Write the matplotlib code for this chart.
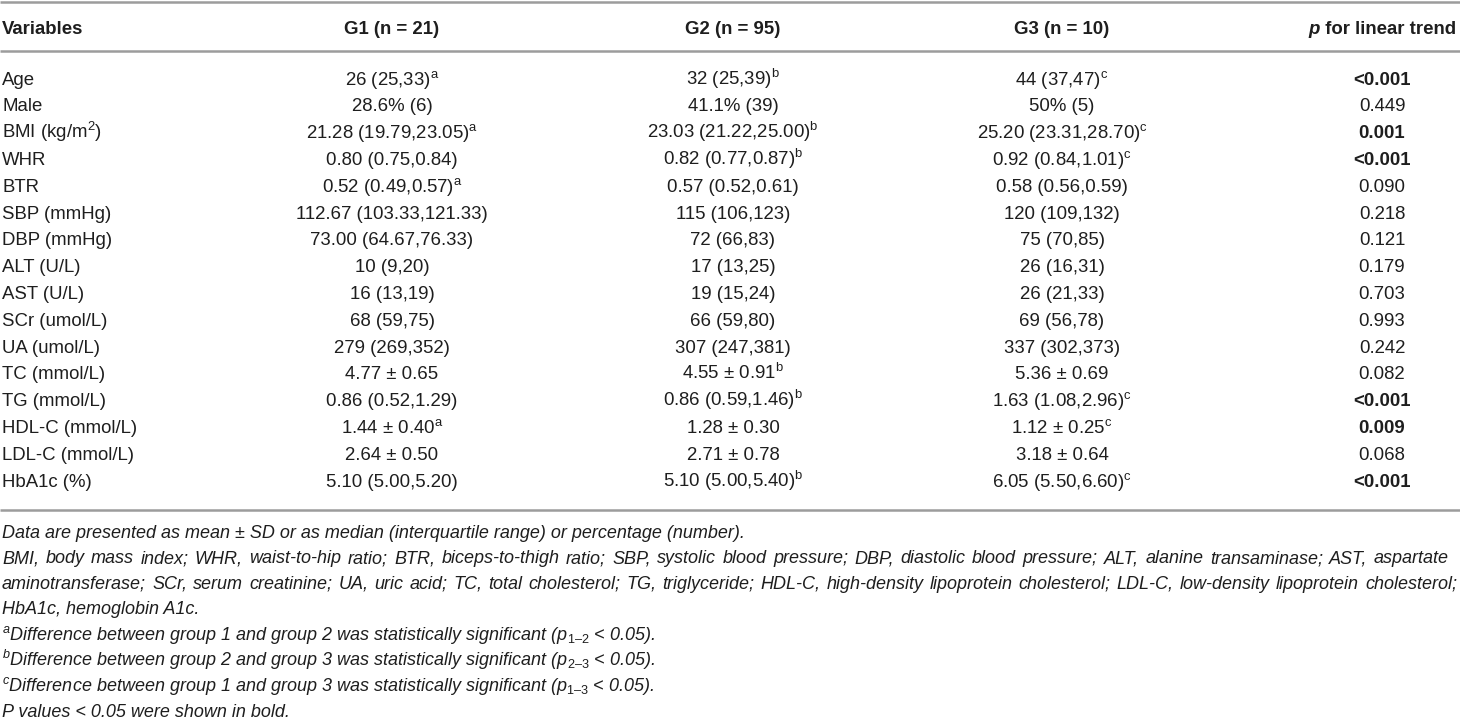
import matplotlib
matplotlib.use("Agg")
import matplotlib.pyplot as plt

# table content
variables = ["Age", "Male", "BMI (kg/m$^{\\mathrm{2}}$)", "WHR", "BTR", "SBP (mmHg)", "DBP (mmHg)",
             "ALT (U/L)", "AST (U/L)", "SCr (umol/L)", "UA (umol/L)", "TC (mmol/L)",
             "TG (mmol/L)", "HDL-C (mmol/L)", "LDL-C (mmol/L)", "HbA1c (%)"]
g1 = ["26 (25,33)", "28.6% (6)", "21.28 (19.79,23.05)", "0.80 (0.75,0.84)", "0.52 (0.49,0.57)",
      "112.67 (103.33,121.33)", "73.00 (64.67,76.33)", "10 (9,20)", "16 (13,19)", "68 (59,75)",
      "279 (269,352)", "4.77 ± 0.65", "0.86 (0.52,1.29)", "1.44 ± 0.40", "2.64 ± 0.50",
      "5.10 (5.00,5.20)"]
g1_sup = ["a", "", "a", "", "a", "", "", "", "", "", "", "", "", "a", "", ""]
g2 = ["32 (25,39)", "41.1% (39)", "23.03 (21.22,25.00)", "0.82 (0.77,0.87)", "0.57 (0.52,0.61)",
      "115 (106,123)", "72 (66,83)", "17 (13,25)", "19 (15,24)", "66 (59,80)", "307 (247,381)",
      "4.55 ± 0.91", "0.86 (0.59,1.46)", "1.28 ± 0.30", "2.71 ± 0.78", "5.10 (5.00,5.40)"]
g2_sup = ["b", "", "b", "b", "", "", "", "", "", "", "", "b", "b", "", "", "b"]
g3 = ["44 (37,47)", "50% (5)", "25.20 (23.31,28.70)", "0.92 (0.84,1.01)", "0.58 (0.56,0.59)",
      "120 (109,132)", "75 (70,85)", "26 (16,31)", "26 (21,33)", "69 (56,78)", "337 (302,373)",
      "5.36 ± 0.69", "1.63 (1.08,2.96)", "1.12 ± 0.25", "3.18 ± 0.64", "6.05 (5.50,6.60)"]
g3_sup = ["c", "", "c", "c", "", "", "", "", "", "", "", "", "c", "c", "", "c"]
p_trend = ["<0.001", "0.449", "0.001", "<0.001", "0.090", "0.218", "0.121", "0.179", "0.703",
           "0.993", "0.242", "0.082", "<0.001", "0.009", "0.068", "<0.001"]
p_bold = [True, False, True, True, False, False, False, False, False, False, False, False,
          True, True, False, True]

headers = ["Variables", "G1 (n = 21)", "G2 (n = 95)", "G3 (n = 10)"]

note_data = "Data are presented as mean ± SD or as median (interquartile range) or percentage (number)."
note_abbr = [
    "BMI, body mass index; WHR, waist-to-hip ratio; BTR, biceps-to-thigh ratio; SBP, systolic blood "
    "pressure; DBP, diastolic blood pressure; ALT, alanine transaminase; AST, aspartate",
    "aminotransferase; SCr, serum creatinine; UA, uric acid; TC, total cholesterol; TG, triglyceride; "
    "HDL-C, high-density lipoprotein cholesterol; LDL-C, low-density lipoprotein cholesterol;",
]
note_abbr_last = "HbA1c, hemoglobin A1c."
note_sig = [
    "$^{\\mathit{a}}$Difference between group 1 and group 2 was statistically significant (p$_{\\mathit{1\u20132}}$ < 0.05).",
    "$^{\\mathit{b}}$Difference between group 2 and group 3 was statistically significant (p$_{\\mathit{2\u20133}}$ < 0.05).",
    "$^{\\mathit{c}}$Difference between group 1 and group 3 was statistically significant (p$_{\\mathit{1\u20133}}$ < 0.05).",
]
note_bold = "P values < 0.05 were shown in bold."

plt.rcParams['font.family'] = ['Liberation Sans', 'DejaVu Sans']
plt.rcParams['mathtext.fontset'] = 'custom'
plt.rcParams['mathtext.rm'] = 'Liberation Sans'
plt.rcParams['mathtext.it'] = 'Liberation Sans:italic'
plt.rcParams['mathtext.bf'] = 'Liberation Sans:bold'

W, H = 1460, 722
fig = plt.figure(figsize=(W / 100, H / 100), dpi=100)
ax = fig.add_axes([0, 0, 1, 1])
ax.set_xlim(0, W)
ax.set_ylim(H, 0)
ax.axis('off')

fs = 13.4
fs_note = 13.0
ink = '#1e1e1e'
rule = '#9c9c9c'
col_x = [2, 392, 733, 1062, 1382]
half_cap = 6.6

# rules
for y in [1.5, 51, 510]:
    ax.plot([0, W], [y, y], color=rule, lw=1.8, solid_capstyle='butt')

# header
header_y = 27 + half_cap
ax.text(col_x[0], header_y, headers[0], ha='left', va='baseline', fontsize=fs,
        fontweight='bold', color=ink)
for x, h in zip(col_x[1:4], headers[1:]):
    ax.text(x, header_y, h, ha='center', va='baseline', fontsize=fs, fontweight='bold', color=ink)

renderer = fig.canvas.get_renderer()
t_p = ax.text(0, header_y, "p", ha='left', va='baseline', fontsize=fs, fontweight='bold',
              fontstyle='italic', color=ink)
t_rest = ax.text(0, header_y, " for linear trend", ha='left', va='baseline', fontsize=fs,
                 fontweight='bold', color=ink)
w_p = t_p.get_window_extent(renderer).width
w_rest = t_rest.get_window_extent(renderer).width
x_start = col_x[4] - (w_p + w_rest) / 2
t_p.set_x(x_start)
t_rest.set_x(x_start + w_p)

# body rows
row0, row_step = 78, 26.8
for i in range(len(variables)):
    y = row0 + i * row_step + half_cap
    ax.text(col_x[0], y, variables[i], ha='left', va='baseline', fontsize=fs, color=ink)
    for x, vals, sups in [(col_x[1], g1, g1_sup), (col_x[2], g2, g2_sup), (col_x[3], g3, g3_sup)]:
        s = vals[i]
        if sups[i]:
            s = s + "$^{\\mathrm{" + sups[i] + "}}$"
        ax.text(x, y, s, ha='center', va='baseline', fontsize=fs, color=ink)
    ax.text(col_x[4], y, p_trend[i], ha='center', va='baseline', fontsize=fs, color=ink,
            fontweight='bold' if p_bold[i] else 'normal')


def justified(line, y, x0, x1):
    words = line.split(" ")
    texts = [ax.text(x0, y, w, ha='left', va='baseline', fontsize=fs_note, fontstyle='italic',
                     color=ink) for w in words]
    widths = [t.get_window_extent(renderer).width for t in texts]
    gap = (x1 - x0 - sum(widths)) / (len(words) - 1)
    x = x0
    for t, w in zip(texts, widths):
        t.set_x(x)
        x += w + gap


# footnotes
foot0, foot_step = 531, 25.6
ys = [foot0 + k * foot_step + half_cap for k in range(8)]
ax.text(2, ys[0], note_data, ha='left', va='baseline', fontsize=fs_note, fontstyle='italic', color=ink)
justified(note_abbr[0], ys[1], 2, 1449)
justified(note_abbr[1], ys[2], 2, 1457)
ax.text(2, ys[3], note_abbr_last, ha='left', va='baseline', fontsize=fs_note, fontstyle='italic',
        color=ink)
for k, s in enumerate(note_sig):
    ax.text(2, ys[4 + k], s, ha='left', va='baseline', fontsize=fs_note, fontstyle='italic', color=ink)
ax.text(2, ys[7], note_bold, ha='left', va='baseline', fontsize=fs_note, fontstyle='italic', color=ink)

fig.savefig("out.png", dpi=100, facecolor='white')
